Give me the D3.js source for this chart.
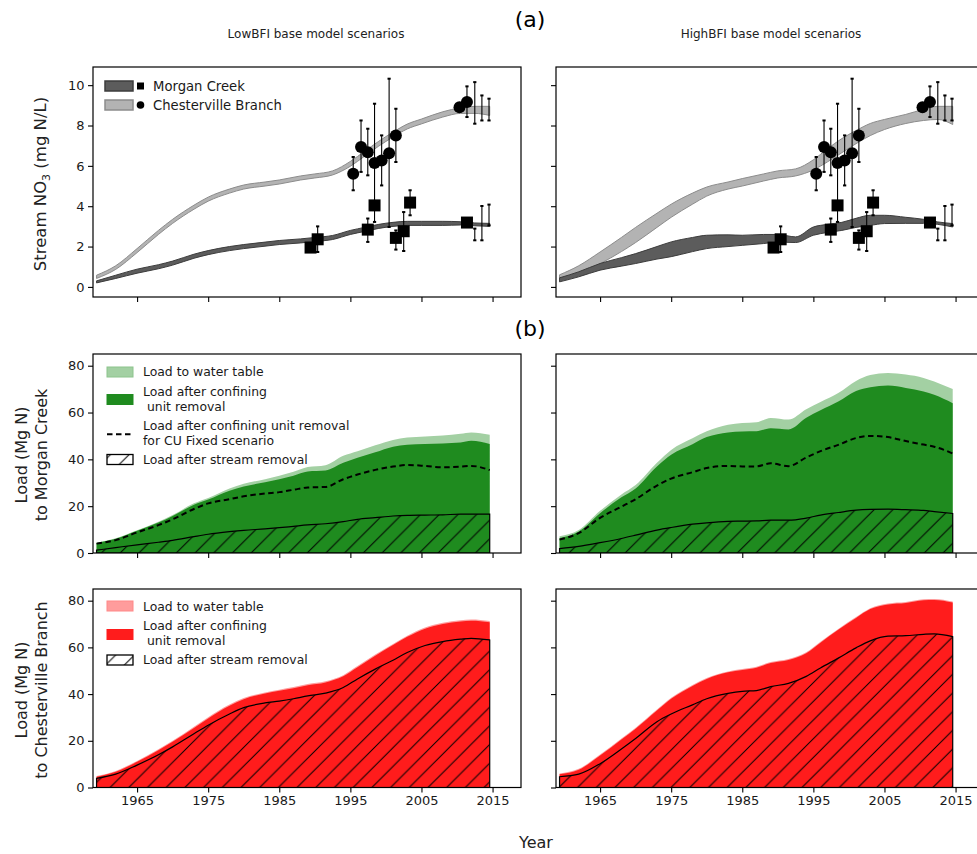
<!DOCTYPE html>
<html><head><meta charset="utf-8">
<script src="https://cdn.jsdelivr.net/npm/d3@7"></script>
<style>body{margin:0;background:#fff;} svg{display:block;font-family:"DejaVu Sans",sans-serif;}</style>
</head><body><svg id="c" width="977" height="854"></svg>
<script>
// ---------------- DATA ----------------
const xTicks = [1965, 1975, 1985, 1995, 2005, 2015];
const nitrateTicks = [0, 2, 4, 6, 8, 10];
const loadTicks = [0, 20, 40, 60, 80];
const columnTitles = ["LowBFI base model scenarios", "HighBFI base model scenarios"];

// (a) simulated stream NO3 bands
const bandYears = [1959.3,1962,1965,1968,1970,1973,1975,1978,1980,1983,1985,1988,1990,1992.5,1995,1997,1999,2001,2003,2005,2008,2010.5,2012.5,2014.6];
const lowChesLower = [0.42,0.87,1.7,2.6,3.15,3.85,4.25,4.65,4.85,5.0,5.1,5.3,5.4,5.55,5.98,6.48,6.98,7.43,7.83,8.08,8.42,8.6,8.6,8.5];
const lowChesUpper = [0.58,1.05,1.9,2.8,3.35,4.05,4.45,4.85,5.05,5.2,5.3,5.5,5.6,5.75,6.22,6.72,7.22,7.67,8.07,8.32,8.68,8.88,8.95,8.95];
const lowMorgLower = [0.2,0.42,0.68,0.9,1.08,1.42,1.6,1.8,1.9,2.02,2.1,2.18,2.25,2.35,2.6,2.75,2.9,3.0,3.05,3.05,3.05,3.07,3.03,3.0];
const lowMorgUpper = [0.3,0.58,0.88,1.1,1.28,1.62,1.8,2.0,2.1,2.22,2.3,2.38,2.45,2.55,2.8,2.95,3.1,3.2,3.25,3.25,3.25,3.23,3.17,3.15];
const highChesLower = [0.3,0.65,1.15,1.75,2.2,2.95,3.45,4.1,4.5,4.85,5.0,5.25,5.4,5.5,5.8,6.2,6.65,7.1,7.5,7.8,8.1,8.25,8.3,8.05];
const highChesUpper = [0.6,1.05,1.73,2.45,2.95,3.65,4.1,4.65,4.95,5.2,5.37,5.6,5.75,5.85,6.3,6.85,7.35,7.75,8.1,8.3,8.55,8.8,8.95,8.95];
const highMorgLower = [0.25,0.5,0.83,1.03,1.16,1.38,1.5,1.75,1.9,2.0,2.06,2.15,2.22,2.2,2.56,2.7,2.8,2.95,3.05,3.14,3.15,3.15,3.1,2.97];
const highMorgUpper = [0.45,0.75,1.16,1.45,1.65,2.0,2.23,2.45,2.56,2.58,2.56,2.6,2.6,2.48,2.97,3.1,3.2,3.4,3.55,3.55,3.45,3.35,3.22,3.14];

// (a) observations (value null = error bar without marker)
const chesObsYears = [1995.4,1996.5,1997.45,1998.4,1999.4,2000.45,2001.4,2010.35,2011.4,2012.5,2013.5,2014.5];
const chesObsValues = [5.61,6.93,6.68,6.14,6.27,6.63,7.51,8.91,9.16,null,null,null];
const chesObsLow = [4.79,5.7,5.53,3.22,5.03,2.97,6.19,null,8.42,8.09,8.25,8.25];
const chesObsHigh = [6.44,8.25,7.84,9.08,7.51,10.32,8.83,null,9.94,10.15,9.49,9.33];
const morgObsYears = [1989.4,1990.4,1997.45,1998.4,2001.4,2002.5,2003.4,2011.4,2012.5,2013.5,2014.5];
const morgObsValues = [1.95,2.36,2.84,4.04,2.43,2.76,4.18,3.19,null,null,null];
const morgObsLow = [null,1.73,2.23,null,1.85,1.78,3.55,null,2.31,2.31,3.05];
const morgObsHigh = [null,3.0,3.39,null,2.8,3.71,4.79,null,2.89,4.01,4.08];

// (b) loads
const loadYears = [1959.3,1962,1965,1968,1970,1973,1975,1978,1980,1983,1985,1987,1989,1991.5,1994,1996,1998.5,2001,2003,2005.5,2008,2010.5,2012,2014.6];
// Morgan Creek, LowBFI
const lowMorgWaterTable = [4.4,6.3,9.7,13.4,16.2,21.2,23.5,27.6,29.6,31.5,33.0,34.7,36.7,37.5,41.5,43.5,46.0,48.3,49.3,49.8,50.2,50.9,51.5,50.5];
const lowMorgConfining  = [4.3,6.1,9.5,13.0,15.8,20.6,22.8,26.6,28.4,30.2,31.5,33.0,34.8,35.2,38.5,40.7,43.0,45.4,46.2,46.6,46.8,47.2,47.9,46.6];
const lowMorgCUFixed    = [4.0,5.5,8.8,11.9,14.4,18.8,21.2,23.0,24.2,25.4,26.0,27.0,28.0,28.2,31.5,33.5,35.5,36.9,37.6,37.2,36.6,36.9,37.2,35.4];
const lowMorgStream     = [1.2,2.3,3.5,4.6,5.4,7.0,8.0,9.1,9.7,10.3,10.8,11.4,12.0,12.5,13.4,14.4,15.1,15.8,16.1,16.2,16.3,16.6,16.6,16.6];
// Morgan Creek, HighBFI
const highMorgWaterTable = [7.2,9.8,18.0,25.0,29.0,38.5,44.0,49.0,52.0,54.8,55.5,55.8,57.7,57.0,61.4,64.5,68.3,73.5,76.0,76.9,76.2,74.8,73.3,70.0];
const highMorgConfining  = [6.4,9.2,17.0,23.8,27.6,37.0,42.0,46.5,49.5,51.5,51.9,52.0,53.3,52.8,57.8,61.0,64.7,69.2,70.8,71.5,70.5,69.0,67.6,64.0];
const highMorgCUFixed    = [5.7,8.5,15.0,19.8,23.0,28.8,31.8,34.5,36.3,37.2,37.0,37.0,38.3,37.1,40.8,43.5,46.2,49.1,50.0,49.5,47.8,46.3,45.4,42.5];
const highMorgStream     = [1.9,2.8,4.4,6.2,7.6,9.8,10.9,12.3,12.9,13.5,13.6,13.7,14.0,14.0,14.9,16.2,17.3,18.3,18.6,18.7,18.5,18.2,17.7,16.9];
// Chesterville Branch, LowBFI
const lowChesWaterTable = [4.9,7.1,11.4,16.4,20.0,26.0,30.1,35.5,38.3,40.7,41.9,43.0,44.3,45.5,48.1,52.0,56.9,61.5,65.0,68.5,70.5,71.6,71.9,71.3];
const lowChesConfining  = [4.6,6.7,11.0,16.0,19.6,25.5,29.6,35.0,37.8,40.2,41.4,42.5,43.8,45.0,47.6,51.5,56.4,61.0,64.5,68.0,70.0,71.1,71.4,70.8];
const lowChesStream     = [3.9,5.7,9.6,14.0,17.4,23.0,26.7,31.5,34.2,36.2,37.0,38.0,39.2,40.4,42.8,46.5,50.7,54.5,57.8,60.8,62.5,63.5,63.9,63.2];
// Chesterville Branch, HighBFI
const highChesWaterTable = [6.0,8.0,14.1,21.0,25.6,33.4,38.4,43.9,46.9,49.7,50.7,51.7,53.7,55.0,57.9,62.4,67.9,73.0,76.8,78.8,79.4,80.6,80.7,79.6];
const highChesConfining  = [5.7,7.6,13.7,20.6,25.2,33.0,38.0,43.5,46.5,49.3,50.3,51.3,53.3,54.6,57.5,62.0,67.5,72.6,76.4,78.4,79.0,80.2,80.3,79.2];
const highChesStream     = [4.6,5.7,10.2,16.5,21.0,28.2,31.5,35.4,38.0,40.3,41.2,41.5,43.2,44.6,47.6,51.2,55.4,59.8,62.8,64.8,65.0,65.6,65.8,64.6];

// ---------------- LAYOUT / STYLE ----------------
const svg = d3.select("#c");
const cols = [{x0:93, x1:521}, {x0:556, x1:984}];
const rows = [
  {y0:67,  y1:297,   dom:[-0.5,10.9], ticks:nitrateTicks},
  {y0:354, y1:553,   dom:[0,85],      ticks:loadTicks},
  {y0:589, y1:787.5, dom:[0,85],      ticks:loadTicks}
];
const xDomain = [1958.8, 2019.0];
const TICK_FONT = 13;
const curve = d3.curveMonotoneX;

const defs = svg.append("defs");
function hatchPattern(id, off) {
  const s = 18.7;
  const p = defs.append("pattern").attr("id", id).attr("patternUnits","userSpaceOnUse")
    .attr("width", s).attr("height", s).attr("x", off).attr("y", 0);
  p.append("path")
    .attr("d", `M${-s/4},${s/4} L${s/4},${-s/4} M0,${s} L${s},0 M${s*3/4},${s*5/4} L${s*5/4},${s*3/4}`)
    .attr("stroke","#000").attr("stroke-width",1).attr("fill","none");
}
hatchPattern("hatch", 0);
hatchPattern("hatchLeg", 4);

function makePanel(ci, ri, id) {
  const c = cols[ci], r = rows[ri];
  const x = d3.scaleLinear().domain(xDomain).range([c.x0, c.x1]);
  const y = d3.scaleLinear().domain(r.dom).range([r.y1, r.y0]);
  defs.append("clipPath").attr("id", id).append("rect")
    .attr("x", c.x0).attr("y", r.y0).attr("width", c.x1 - c.x0).attr("height", r.y1 - r.y0);
  const g = svg.append("g").attr("clip-path", `url(#${id})`);
  return {x, y, g, c, r, ci, ri};
}

function finishPanel(P) {
  const {x, y, c, r, ci, ri} = P;
  const ya = d3.axisLeft(y).tickValues(r.ticks).tickSize(5).tickPadding(3.5)
    .tickFormat(ci === 0 ? d3.format("d") : () => "");
  const gy = svg.append("g").attr("transform", `translate(${c.x0},0)`).call(ya);
  const xa = d3.axisBottom(x).tickValues(xTicks).tickSize(5).tickPadding(3.5)
    .tickFormat(ri === 2 ? d3.format("d") : () => "");
  const gx = svg.append("g").attr("transform", `translate(0,${r.y1})`).call(xa);
  [gx, gy].forEach(a => {
    a.select(".domain").remove();
    a.selectAll("line").attr("stroke", "#000").attr("stroke-width", 1.1);
    a.selectAll("text").attr("fill", "#1a1a1a").style("font-size", TICK_FONT + "px")
      .style("font-family", "DejaVu Sans");
  });
  svg.append("rect").attr("x", c.x0).attr("y", r.y0)
    .attr("width", c.x1 - c.x0).attr("height", r.y1 - r.y0)
    .attr("fill", "none").attr("stroke", "#000").attr("stroke-width", 1.2);
}

// ---------------- (a) NITRATE PANELS ----------------
const MORG_FILL = "#5c5c5c", MORG_EDGE = "#3c3c3c";
const CHES_FILL = "#b3b3b3", CHES_EDGE = "#8c8c8c";

function nitratePanel(ci, chesLo, chesHi, morgLo, morgHi) {
  const P = makePanel(ci, 0, "clipA" + ci);
  const {x, y, g} = P;
  const idx = d3.range(bandYears.length);
  const band = (lo, hi) => d3.area().curve(curve)
    .x(i => x(bandYears[i])).y0(i => y(lo[i])).y1(i => y(hi[i]));
  g.append("path").datum(idx).attr("d", band(chesLo, chesHi))
    .attr("fill", CHES_FILL).attr("stroke", CHES_EDGE).attr("stroke-width", 1);
  g.append("path").datum(idx).attr("d", band(morgLo, morgHi))
    .attr("fill", MORG_FILL).attr("stroke", MORG_EDGE).attr("stroke-width", 1);

  function errBars(years, lo, hi) {
    years.forEach((yr, i) => {
      if (lo[i] == null) return;
      const xx = x(yr);
      g.append("line").attr("x1", xx).attr("x2", xx).attr("y1", y(lo[i])).attr("y2", y(hi[i]))
        .attr("stroke", "#000").attr("stroke-width", 1.1);
      [lo[i], hi[i]].forEach(v => g.append("line").attr("x1", xx - 1.6).attr("x2", xx + 1.6)
        .attr("y1", y(v)).attr("y2", y(v)).attr("stroke", "#000").attr("stroke-width", 2));
    });
  }
  errBars(chesObsYears, chesObsLow, chesObsHigh);
  errBars(morgObsYears, morgObsLow, morgObsHigh);
  chesObsYears.forEach((yr, i) => {
    if (chesObsValues[i] == null) return;
    g.append("circle").attr("cx", x(yr)).attr("cy", y(chesObsValues[i])).attr("r", 6).attr("fill", "#000");
  });
  morgObsYears.forEach((yr, i) => {
    if (morgObsValues[i] == null) return;
    g.append("rect").attr("x", x(yr) - 6).attr("y", y(morgObsValues[i]) - 6)
      .attr("width", 12).attr("height", 12).attr("fill", "#000");
  });
  finishPanel(P);
}
nitratePanel(0, lowChesLower, lowChesUpper, lowMorgLower, lowMorgUpper);
nitratePanel(1, highChesLower, highChesUpper, highMorgLower, highMorgUpper);

// legend (a)
const legA = svg.append("g");
[[81, MORG_FILL, MORG_EDGE, "Morgan Creek", "sq"], [100, CHES_FILL, CHES_EDGE, "Chesterville Branch", "ci"]]
  .forEach(([yy, f, e, t, m]) => {
    legA.append("rect").attr("x", 105).attr("y", yy).attr("width", 28).attr("height", 10)
      .attr("fill", f).attr("stroke", e).attr("stroke-width", 1.5);
    if (m === "sq") legA.append("rect").attr("x", 137).attr("y", yy + 1.5).attr("width", 7).attr("height", 7).attr("fill", "#000");
    else legA.append("circle").attr("cx", 140.5).attr("cy", yy + 5).attr("r", 3.8).attr("fill", "#000");
    legA.append("text").attr("x", 153).attr("y", yy + 9.5).text(t)
      .style("font-size", "13.2px").attr("fill", "#1a1a1a");
  });

// ---------------- (b) LOAD PANELS ----------------
const GREEN_LIGHT = "#a3d0a3", GREEN = "#1f8b1f";
const RED_LIGHT = "#ff9c9c", RED = "#ff1c1c";

function loadPanel(ci, ri, wt, conf, fixed, stream, light, dark) {
  const P = makePanel(ci, ri, "clipL" + ci + ri);
  const {x, y, g} = P;
  const idx = d3.range(loadYears.length);
  const area = vals => d3.area().curve(curve).x(i => x(loadYears[i])).y0(y(0)).y1(i => y(vals[i]));
  g.append("path").datum(idx).attr("d", area(wt)).attr("fill", light);
  g.append("path").datum(idx).attr("d", area(conf)).attr("fill", dark);
  if (fixed) {
    g.append("path").datum(idx)
      .attr("d", d3.line().curve(curve).x(i => x(loadYears[i])).y(i => y(fixed[i])))
      .attr("fill", "none").attr("stroke", "#000").attr("stroke-width", 2).attr("stroke-dasharray", "5.5,3.5");
  }
  g.append("path").datum(idx).attr("d", area(stream))
    .attr("fill", "url(#hatch)").attr("stroke", "#000").attr("stroke-width", 1.2);
  finishPanel(P);
}
loadPanel(0, 1, lowMorgWaterTable, lowMorgConfining, lowMorgCUFixed, lowMorgStream, GREEN_LIGHT, GREEN);
loadPanel(1, 1, highMorgWaterTable, highMorgConfining, highMorgCUFixed, highMorgStream, GREEN_LIGHT, GREEN);
loadPanel(0, 2, lowChesWaterTable, lowChesConfining, null, lowChesStream, RED_LIGHT, RED);
loadPanel(1, 2, highChesWaterTable, highChesConfining, null, highChesStream, RED_LIGHT, RED);

// legends (b)
function loadLegend(items) {
  const lg = svg.append("g").style("font-size", "12.4px");
  items.forEach(it => {
    if (it.kind === "dash") {
      lg.append("line").attr("x1", 107).attr("x2", 133).attr("y1", it.y).attr("y2", it.y)
        .attr("stroke", "#000").attr("stroke-width", 2).attr("stroke-dasharray", "5.5,3.5");
    } else {
      lg.append("rect").attr("x", 107).attr("y", it.y - 5).attr("width", 26).attr("height", 10)
        .attr("fill", it.fill).attr("stroke", it.edge).attr("stroke-width", it.kind === "hatch" ? 1.3 : 1);
    }
    it.lines.forEach((t, k) => {
      lg.append("text").attr("x", 143).attr("y", it.ty + k * 14.5 + 4.3)
        .attr("fill", "#1a1a1a").attr("xml:space", "preserve").text(t);
    });
  });
}
loadLegend([
  {kind:"patch", y:372, fill:GREEN_LIGHT, edge:"#8cc48c", ty:371.7, lines:["Load to water table"]},
  {kind:"patch", y:399.5, fill:GREEN, edge:GREEN, ty:391.7, lines:["Load after confining", " unit removal"]},
  {kind:"dash", y:434.3, ty:426, lines:["Load after confining unit removal", "for CU Fixed scenario"]},
  {kind:"hatch", y:459.5, fill:"url(#hatchLeg)", edge:"#000", ty:459.3, lines:["Load after stream removal"]}
]);
loadLegend([
  {kind:"patch", y:606, fill:RED_LIGHT, edge:"#ff8888", ty:606.7, lines:["Load to water table"]},
  {kind:"patch", y:634.5, fill:RED, edge:RED, ty:625.7, lines:["Load after confining", " unit removal"]},
  {kind:"hatch", y:660, fill:"url(#hatchLeg)", edge:"#000", ty:660, lines:["Load after stream removal"]}
]);

// ---------------- TEXT ----------------
const txt = (x, y, s, size, anchor = "middle") => svg.append("text").attr("x", x).attr("y", y)
  .attr("text-anchor", anchor).style("font-size", size + "px").attr("fill", "#222").text(s);
txt(316, 38, columnTitles[0], 12);
txt(771, 38, columnTitles[1], 12);
txt(530, 27, "(a)", 22).attr("fill", "#000");
txt(530, 336, "(b)", 22).attr("fill", "#000");
txt(536, 848, "Year", 16);

// y labels
const ylab = svg.append("text").attr("transform", "translate(46,184) rotate(-90)")
  .attr("text-anchor", "middle").style("font-size", "16.5px").attr("fill", "#222");
ylab.append("tspan").text("Stream NO");
ylab.append("tspan").attr("font-size", "11px").attr("dy", 4).text("3");
ylab.append("tspan").attr("dy", -4).text(" (mg N/L)");

function twoLine(cy, a, b) {
  const t = svg.append("g").attr("transform", `translate(0,${cy}) rotate(-90)`);
  t.append("text").attr("x", 0).attr("y", 27).attr("text-anchor", "middle").style("font-size", "16px").attr("fill", "#222").text(a);
  t.append("text").attr("x", 0).attr("y", 47).attr("text-anchor", "middle").style("font-size", "16px").attr("fill", "#222").text(b);
}
twoLine(455, "Load (Mg N)", "to Morgan Creek");
twoLine(690, "Load (Mg N)", "to Chesterville Branch");
</script></body></html>
